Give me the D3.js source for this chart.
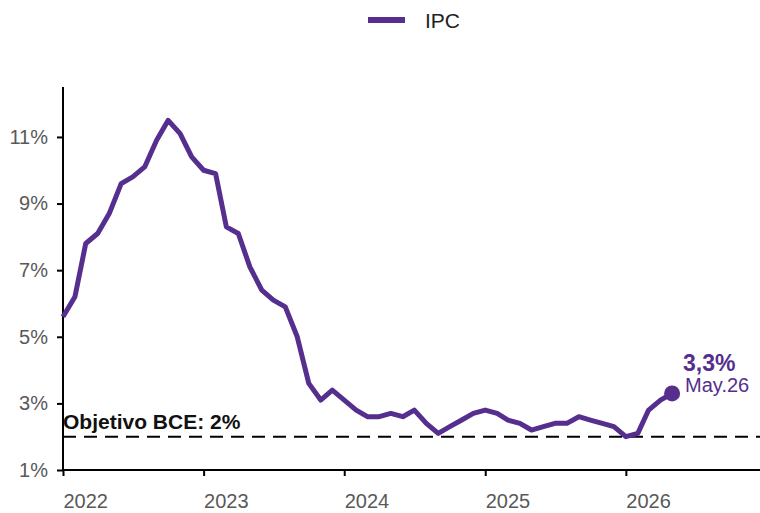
<!DOCTYPE html>
<html>
<head>
<meta charset="utf-8">
<script src="https://cdn.jsdelivr.net/npm/d3@7"></script>
<style>
  body { margin: 0; background: #fff; }
  text { font-family: "Liberation Sans", Arial, sans-serif; }
</style>
</head>
<body>
<script>
// monthly IPC, Jan 2022 .. May 2026
let years = [2022, 2023, 2024, 2025, 2026];
let ipc2022 = [5.6, 6.2, 7.8, 8.1, 8.7, 9.6, 9.8, 10.1, 10.9, 11.5, 11.1, 10.4];
let ipc2023 = [10.0, 9.9, 8.3, 8.1, 7.1, 6.4, 6.1, 5.9, 5.0, 3.6, 3.1, 3.4];
let ipc2024 = [3.1, 2.8, 2.6, 2.6, 2.7, 2.6, 2.8, 2.4, 2.1, 2.3, 2.5, 2.7];
let ipc2025 = [2.8, 2.7, 2.5, 2.4, 2.2, 2.3, 2.4, 2.4, 2.6, 2.5, 2.4, 2.3];
let ipc2026 = [2.0, 2.1, 2.8, 3.1, 3.3];
let yTicks = [1, 3, 5, 7, 9, 11];
let target = 2;
let lastLabel = "3,3%";
let lastDate = "May.26";

var purple = '#552e8e';

let series = [ipc2022, ipc2023, ipc2024, ipc2025, ipc2026];
let data = [];
series.forEach((vals, i) => {
    vals.forEach((v, m) => {
        data.push({ date: new Date(years[i], m, 1), value: v });
    });
});

let canvas = d3.select("body")
            .append("svg")
            .attr("width", 760)
            .attr("height", 513);

let x = d3.scaleTime()
        .domain([new Date(2022, 0, 1), new Date(2026, 11, 10)])
        .range([63, 758]);

let y = d3.scaleLinear()
        .domain([1, 12.5])
        .range([470, 87]);

// legend
canvas.append("line")
    .attr("x1", 368).attr("x2", 405)
    .attr("y1", 20).attr("y2", 20)
    .attr("stroke", purple)
    .attr("stroke-width", 6);
canvas.append("text")
    .attr("x", 425).attr("y", 28)
    .attr("font-size", 21)
    .attr("fill", "#222")
    .text("IPC");

// axes
let yAxis = canvas.append("g")
    .attr("transform", "translate(63,0)")
    .call(d3.axisLeft(y).tickValues(yTicks).tickSize(6).tickPadding(9)
        .tickFormat(d => d + "%"));
yAxis.select(".domain").attr("stroke", "#000").attr("stroke-width", 2)
    .attr("d", "M0," + y(12.5) + "V" + y(1));
yAxis.selectAll(".tick line").attr("stroke", "#000").attr("stroke-width", 2);
yAxis.selectAll(".tick text")
    .attr("font-size", 20).attr("fill", "#595959")
    .attr("font-family", "Liberation Sans, Arial, sans-serif");

let xAxis = canvas.append("g")
    .attr("transform", "translate(0,470)")
    .call(d3.axisBottom(x)
        .tickValues(years.map(yr => new Date(yr, 0, 1)))
        .tickSize(6).tickPadding(18)
        .tickFormat(d3.timeFormat("%Y")));
xAxis.select(".domain").attr("stroke", "#000").attr("stroke-width", 2)
    .attr("d", "M63,0H760");
xAxis.selectAll(".tick line").attr("stroke", "#000").attr("stroke-width", 2);
xAxis.selectAll(".tick text")
    .attr("font-size", 20).attr("fill", "#595959")
    .attr("text-anchor", "start")
    .attr("font-family", "Liberation Sans, Arial, sans-serif");

// ECB target
canvas.append("line")
    .attr("x1", 63).attr("x2", 760)
    .attr("y1", y(target)).attr("y2", y(target))
    .attr("stroke", "#000")
    .attr("stroke-width", 2)
    .attr("stroke-dasharray", "13,8");
canvas.append("text")
    .attr("x", 63).attr("y", y(target) - 8)
    .attr("font-size", 21)
    .attr("font-weight", "bold")
    .attr("fill", "#111")
    .text("Objetivo BCE: " + target + "%");

// IPC line
let line = d3.line()
    .x(d => x(d.date))
    .y(d => y(d.value));

canvas.append("path")
    .datum(data)
    .attr("d", line)
    .attr("fill", "none")
    .attr("stroke", purple)
    .attr("stroke-width", 5)
    .attr("stroke-linejoin", "round");

let last = data[data.length - 1];
canvas.append("circle")
    .attr("cx", x(last.date))
    .attr("cy", y(last.value))
    .attr("r", 8)
    .attr("fill", purple);

canvas.append("text")
    .attr("x", x(last.date) + 11)
    .attr("y", y(last.value) - 22)
    .attr("font-size", 23)
    .attr("font-weight", "bold")
    .attr("fill", purple)
    .text(lastLabel);
canvas.append("text")
    .attr("x", x(last.date) + 13)
    .attr("y", y(last.value) - 1)
    .attr("font-size", 20)
    .attr("fill", purple)
    .text(lastDate);
</script>
</body>
</html>
